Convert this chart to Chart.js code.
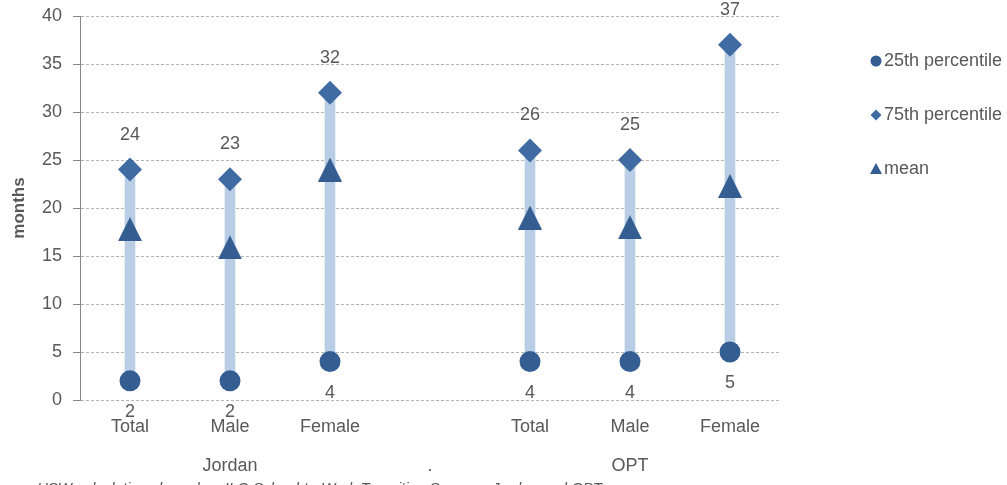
<!DOCTYPE html>
<html>
<head>
<meta charset="utf-8">
<script src="https://cdn.jsdelivr.net/npm/chart.js@4.4.1/dist/chart.umd.min.js"></script>
<style>
  html, body { margin: 0; padding: 0; background: #ffffff; }
  #wrap { width: 1007px; height: 485px; position: relative; }
</style>
</head>
<body>
<div id="wrap"><canvas id="c" width="1007" height="485"></canvas></div>
<script>
// ---- data ----
const categories = ['Total', 'Male', 'Female', '', 'Total', 'Male', 'Female'];
const groups = ['', 'Jordan', '', '.', '', 'OPT', ''];
const p25 = [2, 2, 4, null, 4, 4, 5];
const p75 = [24, 23, 32, null, 26, 25, 37];
const meanVals = [17.8, 15.9, 24, null, 19, 18, 22.3];
const seriesNames = ['25th percentile', '75th percentile', 'mean'];
const yTicks = [0, 5, 10, 15, 20, 25, 30, 35, 40];
const yTitle = 'months';
const footnote = 'HSW calculations based on ILO School-to-Work Transition Surveys, Jordan and OPT';

const FONT = "'Liberation Sans', Arial, sans-serif";
const FS = 18;
const TXT = '#595959';
const C25 = '#345e92';
const C75 = '#3f6ba2';
const CMEAN = '#345e92';
const CBAR = '#b9cde5';

function triCanvas(size, color) {
  const c = document.createElement('canvas');
  c.width = size; c.height = size;
  const x = c.getContext('2d');
  x.fillStyle = color;
  x.beginPath();
  x.moveTo(size / 2, 0);
  x.lineTo(size, size);
  x.lineTo(0, size);
  x.closePath();
  x.fill();
  return c;
}
const triBig = triCanvas(24, CMEAN);

const labels = categories.map((c, i) => [c, '', groups[i]]);
const ranges = p25.map((v, i) => (v === null ? null : [v, p75[i]]));

const overlay = {
  id: 'overlay',
  afterDatasetsDraw(chart) {
    const ctx = chart.ctx;
    ctx.save();
    ctx.font = FS + 'px ' + FONT;
    ctx.fillStyle = TXT;
    ctx.textAlign = 'center';
    ctx.textBaseline = 'middle';
    const m75 = chart.getDatasetMeta(2);
    m75.data.forEach((pt, i) => {
      if (p75[i] === null) return;
      ctx.fillText(String(p75[i]), pt.x, pt.y - 35);
    });
    const m25 = chart.getDatasetMeta(1);
    m25.data.forEach((pt, i) => {
      if (p25[i] === null) return;
      ctx.fillText(String(p25[i]), pt.x, pt.y + 31);
    });
    ctx.restore();
  },
  afterDraw(chart) {
    const ctx = chart.ctx;
    ctx.save();
    // legend
    const lx = 876, ly = [61, 115, 169];
    ctx.fillStyle = C25;
    ctx.beginPath(); ctx.arc(lx, ly[0], 5.5, 0, Math.PI * 2); ctx.fill();
    ctx.fillStyle = C75;
    ctx.beginPath();
    ctx.moveTo(lx, ly[1] - 5.5); ctx.lineTo(lx + 5.5, ly[1]); ctx.lineTo(lx, ly[1] + 5.5); ctx.lineTo(lx - 5.5, ly[1]);
    ctx.closePath(); ctx.fill();
    ctx.fillStyle = CMEAN;
    ctx.beginPath();
    ctx.moveTo(lx, ly[2] - 6); ctx.lineTo(lx + 6, ly[2] + 5); ctx.lineTo(lx - 6, ly[2] + 5);
    ctx.closePath(); ctx.fill();
    ctx.font = FS + 'px ' + FONT;
    ctx.fillStyle = TXT;
    ctx.textAlign = 'left';
    ctx.textBaseline = 'middle';
    seriesNames.forEach((n, i) => ctx.fillText(n, 884, ly[i]));
    // footnote
    ctx.font = 'italic 15px ' + FONT;
    ctx.textBaseline = 'top';
    ctx.fillText(footnote, 37, 481);
    ctx.restore();
  }
};

new Chart(document.getElementById('c'), {
  data: {
    labels: labels,
    datasets: [
      { type: 'bar', label: 'range', data: ranges, backgroundColor: CBAR, borderWidth: 0,
        barThickness: 10, grouped: false, order: 10 },
      { type: 'line', label: seriesNames[0], data: p25, showLine: false, pointStyle: 'circle',
        pointRadius: 10.5, pointBackgroundColor: C25, pointBorderWidth: 0, order: 1 },
      { type: 'line', label: seriesNames[1], data: p75, showLine: false, pointStyle: 'rectRot',
        pointRadius: 12, pointBackgroundColor: C75, pointBorderWidth: 0, order: 2 },
      { type: 'line', label: seriesNames[2], data: meanVals, showLine: false, pointStyle: triBig,
        pointRadius: 12, pointBackgroundColor: CMEAN, pointBorderWidth: 0, order: 3 }
    ]
  },
  options: {
    responsive: false,
    animation: false,
    events: [],
    layout: { padding: { top: 16, right: 227, left: 0, bottom: 0 } },
    plugins: { legend: { display: false }, tooltip: { enabled: false } },
    scales: {
      x: {
        type: 'category',
        offset: true,
        grid: { display: false, drawTicks: false },
        border: { display: false },
        ticks: { color: TXT, font: { family: FONT, size: FS, lineHeight: 1.08 }, padding: 17,
                 maxRotation: 0, autoSkip: false },
        afterFit: (s) => { s.height = 85; s.paddingLeft = 0; s.paddingRight = 0; }
      },
      y: {
        min: 0, max: 40,
        afterBuildTicks: (s) => { s.ticks = yTicks.map(v => ({ value: v })); },
        grid: { color: '#b4b4b4', lineWidth: 1, tickLength: 7, tickColor: '#868686', tickBorderDash: [] },
        border: { display: true, color: '#868686', width: 1, dash: [3, 2] },
        ticks: { color: TXT, font: { family: FONT, size: FS }, padding: 11 },
        title: { display: true, text: yTitle, color: TXT, font: { family: FONT, size: 17, weight: 'bold' },
                 padding: { top: 9, bottom: 0 } },
        afterFit: (s) => { s.width = 80; s.paddingTop = 0; s.paddingBottom = 0; }
      }
    }
  },
  plugins: [overlay]
});
</script>
</body>
</html>
